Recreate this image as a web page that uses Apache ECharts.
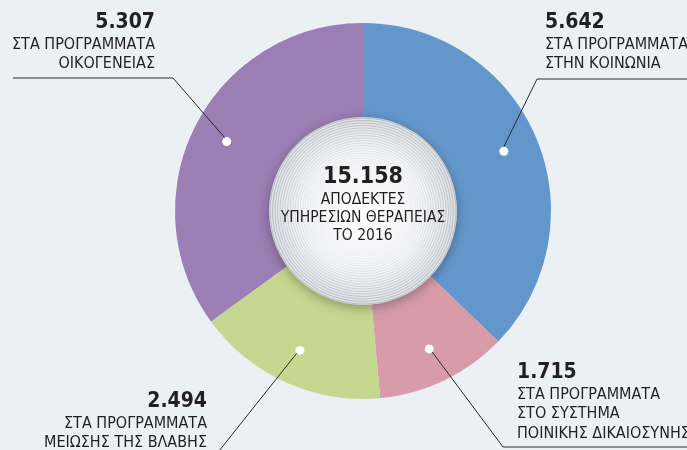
<!DOCTYPE html>
<html>
<head>
<meta charset="utf-8">
<script src="https://cdn.jsdelivr.net/npm/echarts@6/dist/echarts.min.js"></script>
<style>
html, body { margin: 0; padding: 0; background: #ebf0f4; }
#chart { width: 687px; height: 450px; }
</style>
</head>
<body>
<div id="chart"></div>
<script>
// data
const categories = ['ΣΤΗΝ ΚΟΙΝΩΝΙΑ', 'ΣΤΟ ΣΥΣΤΗΜΑ ΠΟΙΝΙΚΗΣ ΔΙΚΑΙΟΣΥΝΗΣ', 'ΜΕΙΩΣΗΣ ΤΗΣ ΒΛΑΒΗΣ', 'ΟΙΚΟΓΕΝΕΙΑΣ']
const values = [5642, 1715, 2494, 5307]
const labelTexts = [
  ['ΣΤΑ ΠΡΟΓΡΑΜΜΑΤΑ', 'ΣΤΗΝ ΚΟΙΝΩΝΙΑ'],
  ['ΣΤΑ ΠΡΟΓΡΑΜΜΑΤΑ', 'ΣΤΟ ΣΥΣΤΗΜΑ', 'ΠΟΙΝΙΚΗΣ ΔΙΚΑΙΟΣΥΝΗΣ'],
  ['ΣΤΑ ΠΡΟΓΡΑΜΜΑΤΑ', 'ΜΕΙΩΣΗΣ ΤΗΣ ΒΛΑΒΗΣ'],
  ['ΣΤΑ ΠΡΟΓΡΑΜΜΑΤΑ', 'ΟΙΚΟΓΕΝΕΙΑΣ']
]
const total = 15158
const centerTexts = ['ΑΠΟΔΕΚΤΕΣ', 'ΥΠΗΡΕΣΙΩΝ ΘΕΡΑΠΕΙΑΣ', 'ΤΟ 2016']

// style
const colors = ['#6397cb', '#d89baa', '#c5d88f', '#9b7eb4']
const FONT = "'Liberation Sans Narrow', 'DejaVu Sans Condensed', sans-serif"
const CX = 363
const CY = 211
const R = 188
const DOT_R = 150
const INNER_R = 94

// where each label sits and where its leader line bends
const anchors = [
  { x: 545, y: 10, align: 'left', bend: [537, 79], end: [687, 79] },
  { x: 517, y: 360, align: 'left', bend: [503, 447], end: [687, 447] },
  { x: 207, y: 389, align: 'right', bend: [219, 451], end: [214, 460] },
  { x: 155, y: 10, align: 'right', bend: [173, 78], end: [13, 78] }
]

const fmt = v => String(v).replace(/\B(?=(\d{3})+(?!\d))/g, '.')

const myChart = echarts.init(document.getElementById('chart'))

// concentric rings of the centre disc
const rings = []
for (let r = INNER_R - 1; r > 8; r -= 2.5) {
  const t = r / INNER_R
  rings.push({
    type: 'circle',
    z: 11,
    silent: true,
    shape: { cx: CX, cy: CY, r: r },
    style: { fill: null, stroke: 'rgba(120,125,132,' + (0.05 + 0.5 * t * t * t).toFixed(2) + ')', lineWidth: 0.7 }
  })
}

const pieData = values.map((v, i) => ({ name: categories[i], value: v }))

const option = {
  backgroundColor: '#ebf0f4',
  animation: false,
  series: [
    {
      type: 'pie',
      center: [CX, CY],
      radius: [0, R],
      startAngle: 90,
      silent: true,
      z: 2,
      data: values.map((v, i) => ({ name: categories[i], value: v, itemStyle: { color: colors[i] } })),
      label: { show: false },
      labelLine: { show: false }
    },
    {
      // transparent copy: its edge is where the leader lines start
      type: 'pie',
      center: [CX, CY],
      radius: [0, DOT_R],
      startAngle: 90,
      silent: true,
      avoidLabelOverlap: false,
      z: 5,
      data: pieData,
      itemStyle: { color: 'rgba(0,0,0,0)' },
      label: {
        show: true,
        position: 'outside',
        color: '#231f20',
        fontFamily: FONT,
        formatter: p => {
          const i = p.dataIndex
          return '{num|' + fmt(values[i]) + '}\n' + labelTexts[i].map(t => '{txt|' + t + '}').join('\n')
        },
        rich: {
          num: { fontFamily: FONT, fontSize: 21, fontWeight: 'bold', color: '#231f20', lineHeight: 25 },
          txt: { fontFamily: FONT, fontSize: 16, color: '#231f20', lineHeight: 19.5 }
        }
      },
      labelLine: {
        show: true,
        length: 10,
        length2: 10,
        lineStyle: { color: '#2a2a2a', width: 1 }
      },
      labelLayout: params => {
        const a = anchors[params.dataIndex]
        const p0 = params.labelLinePoints[0]
        return {
          x: a.x,
          y: a.y,
          align: a.align,
          verticalAlign: 'top',
          labelLinePoints: [p0, a.bend, a.end]
        }
      }
    },
    {
      // white dots at the start of the leader lines
      type: 'pie',
      center: [CX, CY],
      radius: [0, DOT_R * 2],
      startAngle: 90,
      silent: true,
      z: 6,
      data: pieData,
      itemStyle: { color: 'rgba(0,0,0,0)' },
      label: {
        show: true,
        position: 'inside',
        formatter: '{d| }',
        rich: { d: { width: 9, height: 9, borderRadius: 4.5, backgroundColor: '#ffffff' } }
      },
      labelLine: { show: false }
    }
  ],
  graphic: [
    {
      type: 'circle',
      z: 10,
      silent: true,
      shape: { cx: CX, cy: CY, r: INNER_R },
      style: {
        fill: {
          type: 'radial', x: 0.5, y: 0.5, r: 0.5,
          colorStops: [
            { offset: 0, color: '#ffffff' },
            { offset: 0.65, color: '#f3f4f6' },
            { offset: 1, color: '#dcdfe3' }
          ]
        },
        shadowBlur: 12,
        shadowOffsetY: 3,
        shadowColor: 'rgba(0,0,0,0.3)'
      }
    },
    ...rings,
    {
      type: 'text',
      z: 12,
      silent: true,
      style: {
        x: CX,
        y: 163,
        align: 'center',
        verticalAlign: 'top',
        text: '{big|' + fmt(total) + '}\n' + centerTexts.map(t => '{sm|' + t + '}').join('\n'),
        rich: {
          big: { fontFamily: FONT, fontSize: 23, fontWeight: 'bold', fill: '#231f20', lineHeight: 28, align: 'center' },
          sm: { fontFamily: FONT, fontSize: 15.5, fill: '#231f20', lineHeight: 18, align: 'center' }
        }
      }
    }
  ]
}
myChart.setOption(option)
</script>
</body>
</html>
